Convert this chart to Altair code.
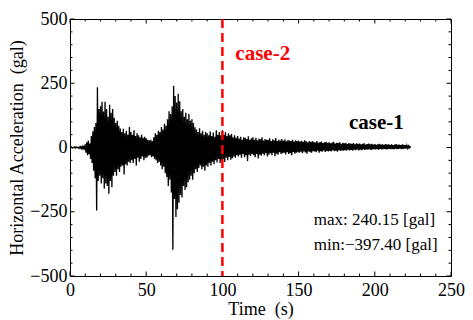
import altair as alt
import pandas as pd

# ---- hand-read envelope of the acceleration record (gal), one peak (U) and one trough (L) per second ----
U = [1, 2, 1, 2, 2, 1, 2, 3, 4, 6,
     12, 20, 27, 15, 45, 63, 80, 95, 234, 150,
     160, 178, 140, 178, 150, 120, 166, 135, 150, 116,
     95, 104, 85, 74, 60, 73, 55, 65, 50, 80,
     60, 50, 67, 45, 55, 48, 40, 50, 38, 42,
     36, 30, 28, 30, 25, 40, 55, 50, 65, 60,
     80, 70, 92, 85, 110, 141, 130, 160, 240.15, 200,
     175, 209, 180, 141, 150, 120, 135, 110, 130, 104,
     110, 95, 79, 70, 60, 75, 55, 65, 50, 60,
     55, 48, 62, 45, 58, 42, 67, 50, 60, 48,
     67, 50, 60, 45, 55, 48, 52, 40, 48, 38,
     45, 35, 42, 30, 40, 38, 33, 44, 30, 36,
     40, 30, 38, 28, 35, 32, 40, 27, 33, 30,
     30, 36, 25, 32, 28, 37, 25, 30, 27, 33,
     26, 32, 24, 29, 27, 25, 30, 23, 28, 25,
     27, 23, 26, 22, 28, 24, 20, 25, 22, 24,
     22, 19, 25, 18, 21, 23, 17, 20, 22, 18,
     20, 16, 19, 22, 15, 18, 17, 20, 14, 18,
     16, 18, 13, 17, 15, 14, 17, 12, 16, 14,
     15, 12, 14, 16, 11, 13, 15, 12, 14, 11,
     13, 10, 12, 14, 11, 12, 10, 13, 11, 12,
     10, 12, 9, 11, 13, 10, 11, 9, 12, 10,
     9, 8, 6, 4]
L = [-1, -2, -1, -2, -1, -2, -3, -4, -5, -8,
     -20, -30, -26, -45, -60, -90, -120, -245, -130, -110,
     -140, -120, -160, -140, -150, -180, -130, -155, -110, -95,
     -110, -85, -95, -75, -70, -105, -65, -70, -55, -60,
     -50, -60, -45, -70, -40, -55, -45, -35, -50, -40,
     -40, -32, -30, -38, -35, -45, -50, -60, -55, -70,
     -85, -75, -100, -115, -150, -125, -175, -397.40, -200, -270,
     -240, -215, -185, -195, -150, -165, -155, -135, -125, -110,
     -125, -100, -85, -95, -80, -70, -85, -75, -90, -70,
     -75, -60, -70, -55, -65, -50, -58, -45, -60, -50,
     -45, -56, -40, -50, -37, -48, -42, -35, -40, -30,
     -35, -28, -40, -25, -38, -30, -52, -28, -33, -25,
     -30, -38, -25, -43, -28, -32, -24, -30, -22, -35,
     -28, -22, -30, -20, -34, -24, -28, -18, -25, -22,
     -20, -27, -18, -25, -22, -30, -17, -24, -20, -18,
     -20, -16, -22, -15, -19, -24, -15, -18, -20, -14,
     -15, -18, -12, -20, -14, -16, -11, -17, -13, -15,
     -13, -15, -10, -14, -12, -16, -10, -13, -11, -12,
     -10, -12, -8, -11, -9, -12, -8, -10, -7, -11,
     -8, -10, -6, -9, -7, -8, -6, -9, -7, -6,
     -7, -6, -8, -5, -7, -6, -5, -7, -6, -5,
     -6, -5, -7, -4, -6, -5, -4, -6, -5, -4,
     -4, -3, -2, -1]

X_MAJOR = [0, 50, 100, 150, 200, 250]
X_MINOR = [10, 20, 30, 40, 60, 70, 80, 90, 110, 120, 130, 140,
           160, 170, 180, 190, 210, 220, 230, 240]
Y_MAJOR = [-500, -250, 0, 250, 500]
Y_MINOR = [-450, -400, -350, -300, -200, -150, -100, -50,
           50, 100, 150, 200, 300, 350, 400, 450]

CASE_LINE = [100]
RED_LABEL = {"t": [108.5], "a": [340], "text": ["case-2"]}
BLACK_LABEL = {"t": [183], "a": [72], "text": ["case-1"]}
STATS = {"t": [160, 160], "a": [-302, -399],
         "text": ["max: 240.15 [gal]", "min:\u2212397.40 [gal]"]}

W, H = 381, 257
FONT = "Liberation Serif"

rows = []
for i, (u, l) in enumerate(zip(U, L)):
    rows.append({"t": i, "a": u})
    rows.append({"t": i + 0.5, "a": l})
df = pd.DataFrame(rows)

xs = alt.Scale(domain=[0, 250], nice=False, zero=False)
ys = alt.Scale(domain=[-500, 500], nice=False)

X_AXIS = alt.Axis(values=X_MAJOR, title="Time\u2002(s)", ticks=False, domain=False,
                  grid=False, labelPadding=5, titlePadding=1, labelFlush=False, format="d")
Y_AXIS = alt.Axis(values=Y_MAJOR, title="Horizontal Acceleration\u2002(gal)",
                  ticks=False, domain=False, grid=False, labelPadding=3,
                  titlePadding=3, labelFlush=False, format="d")


def X(field="t"):
    return alt.X(f"{field}:Q", scale=xs, axis=X_AXIS)


def Y(field="a"):
    return alt.Y(f"{field}:Q", scale=ys, axis=Y_AXIS)


line = alt.Chart(df).mark_line(color="black", strokeWidth=1.3).encode(x=X(), y=Y())


def xticks(vals, length):
    d = pd.DataFrame({"t": vals})
    b = alt.Chart(d).mark_rule(color="black", strokeWidth=1).encode(
        x=X(), y=alt.value(H), y2=alt.value(H - length))
    t = alt.Chart(d).mark_rule(color="black", strokeWidth=1).encode(
        x=X(), y=alt.value(0), y2=alt.value(length))
    return [b, t]


def yticks(vals, length):
    d = pd.DataFrame({"a": vals})
    l = alt.Chart(d).mark_rule(color="black", strokeWidth=1).encode(
        y=Y(), x=alt.value(0), x2=alt.value(length))
    r = alt.Chart(d).mark_rule(color="black", strokeWidth=1).encode(
        y=Y(), x=alt.value(W), x2=alt.value(W - length))
    return [l, r]


ticks = xticks(X_MAJOR, 4.5) + xticks(X_MINOR, 2.5) + yticks(Y_MAJOR, 4.5) + yticks(Y_MINOR, 2.5)

dash = alt.Chart(pd.DataFrame({"t": CASE_LINE})).mark_rule(
    color="#ff0000", strokeWidth=2.5, strokeDash=[9, 5]).encode(x=X())

red_txt = alt.Chart(pd.DataFrame(RED_LABEL)).mark_text(
    align="left", baseline="alphabetic", font=FONT, fontSize=21, fontWeight="bold",
    color="#ff0000").encode(x=X(), y=Y(), text="text:N")

blk_txt = alt.Chart(pd.DataFrame(BLACK_LABEL)).mark_text(
    align="left", baseline="alphabetic", font=FONT, fontSize=21, fontWeight="bold",
    color="black").encode(x=X(), y=Y(), text="text:N")

stat_txt = alt.Chart(pd.DataFrame(STATS)).mark_text(
    align="left", baseline="alphabetic", font=FONT, fontSize=17, color="black").encode(
    x=X(), y=Y(), text="text:N")

chart = alt.layer(line, *ticks, dash, red_txt, blk_txt, stat_txt).properties(
    width=W, height=H,
    autosize=alt.AutoSizeParams(type="none"),
    padding={"left": 62, "top": 11, "right": 14, "bottom": 45},
).configure_view(stroke="black", strokeWidth=1).configure_axis(
    labelFont=FONT, titleFont=FONT, labelFontSize=18, titleFontSize=18,
    titleFontWeight="normal", labelColor="black", titleColor="black",
)

chart.save("out.html", embed_options={"renderer": "svg", "actions": False})
